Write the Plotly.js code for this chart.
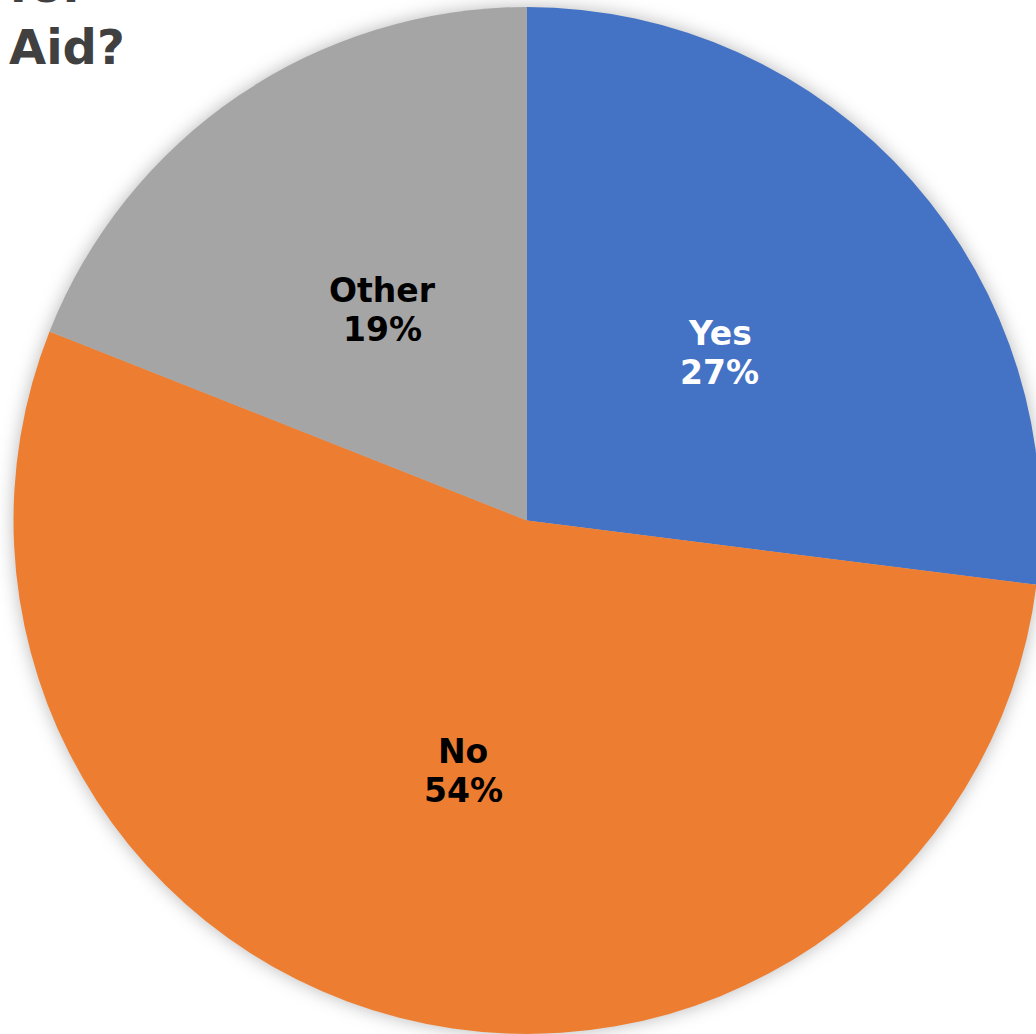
<!DOCTYPE html>
<html>
<head>
<meta charset="utf-8">
<script src="https://cdn.plot.ly/plotly-3.0.1.min.js"></script>
<style>
html, body { margin: 0; padding: 0; overflow: hidden; background: #ffffff; }
#chart { width: 1054px; height: 1034px; }
#chart .pielayer { filter: drop-shadow(0px 0px 9px rgba(0,0,0,0.28)); }
</style>
</head>
<body>
<div id="chart"></div>
<script>
const categories = ["Yes", "No", "Other"];
const shares = [27, 54, 19];
const sliceColors = ["#4472C4", "#ED7D31", "#A5A5A5"];
const labelColors = ["#FFFFFF", "#000000", "#000000"];
const titleText = "for<br>Aid?";

const W = 1054, H = 1034;
const domainY = [0, 1 - 7 / H];
const radiusPx = Math.min(W, (domainY[1] - domainY[0]) * H) / 2;
const centerX = 0.5;
const centerYpx = (domainY[0] + domainY[1]) / 2 * H;

const trace = {
  type: "pie",
  labels: categories,
  values: shares,
  sort: false,
  direction: "clockwise",
  rotation: 0,
  marker: { colors: sliceColors, line: { width: 0 } },
  textinfo: "none",
  hoverinfo: "none",
  showlegend: false,
  domain: { x: [0, 1], y: domainY }
};

// Data labels placed at half radius along each slice bisector (derived from the data)
const total = shares.reduce((a, b) => a + b, 0);
const annotations = [];
let cum = 0;
shares.forEach((v, i) => {
  const mid = (cum + v / 2) / total * 2 * Math.PI;
  cum += v;
  const x = centerX + 0.5 * radiusPx * Math.sin(mid) / W;
  const y = (centerYpx + 0.5 * radiusPx * Math.cos(mid)) / H;
  const font = { family: "DejaVu Sans", size: 33, weight: "bold", color: labelColors[i] };
  annotations.push({
    xref: "paper", yref: "paper", x: x, y: y, yshift: 17.5,
    text: categories[i], showarrow: false, xanchor: "center", yanchor: "middle", font: font
  });
  annotations.push({
    xref: "paper", yref: "paper", x: x, y: y, yshift: -21.7,
    text: Math.round(v / total * 100) + "%", showarrow: false, xanchor: "center", yanchor: "middle", font: font
  });
});

annotations.push({
  xref: "paper", yref: "paper", x: 7 / W, y: 1 - 77 / H,
  xanchor: "left", yanchor: "bottom", align: "left", showarrow: false,
  text: "<b>" + titleText + "</b>",
  font: { family: "DejaVu Sans", size: 48, color: "#404040" }
});

const layout = {
  width: W,
  height: H,
  margin: { l: 0, r: 0, t: 0, b: 0, pad: 0 },
  paper_bgcolor: "#ffffff",
  showlegend: false,
  annotations: annotations
};

Plotly.newPlot("chart", [trace], layout, { staticPlot: true, displayModeBar: false });
</script>
</body>
</html>
